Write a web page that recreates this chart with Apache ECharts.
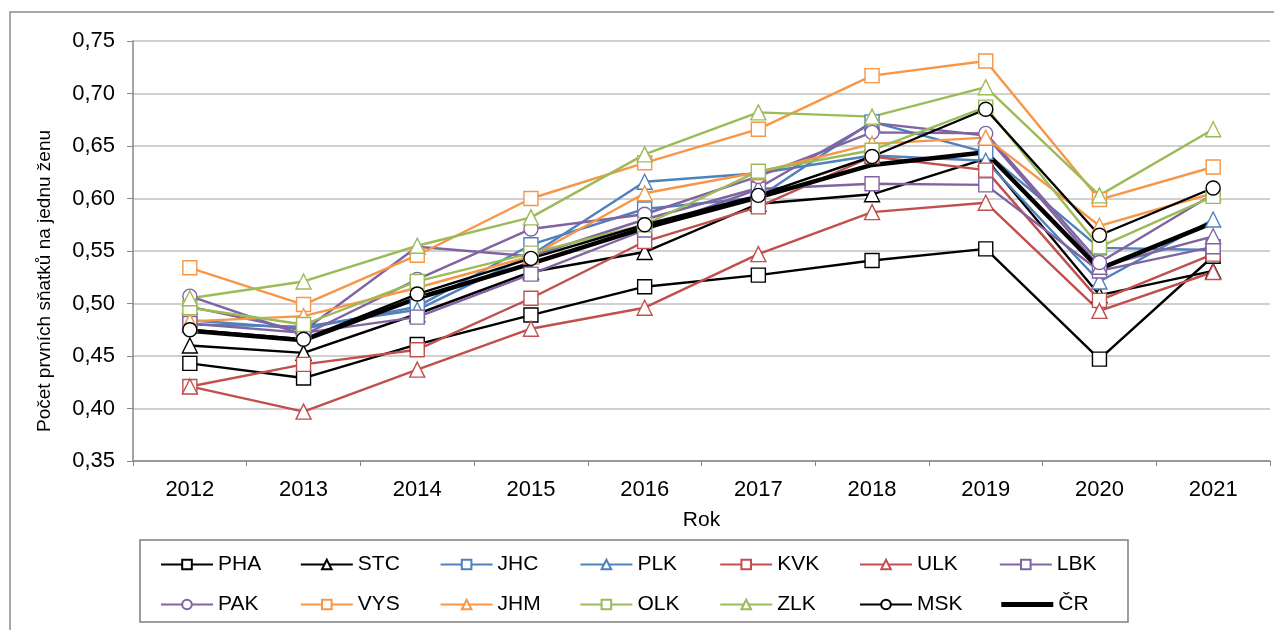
<!DOCTYPE html>
<html>
<head>
<meta charset="utf-8">
<script src="https://cdn.jsdelivr.net/npm/echarts@6/dist/echarts.min.js"></script>
<style>
  html, body { margin: 0; padding: 0; background: #fff; }
  #main { width: 1274px; height: 630px; }
</style>
</head>
<body>
<div id="main"></div>
<script>
var years = ['2012', '2013', '2014', '2015', '2016', '2017', '2018', '2019', '2020', '2021'];

var pha = [0.443, 0.429, 0.461, 0.489, 0.516, 0.527, 0.541, 0.552, 0.447, 0.545];
var stc = [0.460, 0.453, 0.490, 0.530, 0.549, 0.595, 0.604, 0.638, 0.508, 0.531];
var jhc = [0.484, 0.476, 0.497, 0.556, 0.590, 0.601, 0.673, 0.644, 0.553, 0.551];
var plk = [0.480, 0.478, 0.494, 0.546, 0.616, 0.624, 0.641, 0.636, 0.521, 0.580];
var kvk = [0.421, 0.442, 0.456, 0.505, 0.559, 0.592, 0.640, 0.627, 0.503, 0.547];
var ulk = [0.421, 0.397, 0.437, 0.476, 0.496, 0.547, 0.587, 0.596, 0.493, 0.530];
var lbk = [0.481, 0.472, 0.487, 0.528, 0.570, 0.609, 0.614, 0.613, 0.531, 0.554];
var hkk = [0.497, 0.474, 0.554, 0.545, 0.580, 0.610, 0.672, 0.660, 0.535, 0.564];
var pak = [0.507, 0.470, 0.523, 0.571, 0.585, 0.621, 0.663, 0.662, 0.539, 0.604];
var vys = [0.534, 0.499, 0.546, 0.600, 0.634, 0.666, 0.717, 0.731, 0.599, 0.630];
var jhm = [0.483, 0.488, 0.515, 0.545, 0.605, 0.625, 0.652, 0.658, 0.574, 0.605];
var olk = [0.496, 0.480, 0.521, 0.548, 0.575, 0.626, 0.646, 0.687, 0.554, 0.602];
var zlk = [0.505, 0.521, 0.555, 0.582, 0.642, 0.682, 0.678, 0.706, 0.603, 0.666];
var msk = [0.475, 0.466, 0.509, 0.543, 0.575, 0.603, 0.640, 0.685, 0.565, 0.610];
var cr  = [0.474, 0.465, 0.505, 0.538, 0.572, 0.601, 0.632, 0.644, 0.533, 0.577];

var legendRow1 = ['PHA', 'STC', 'JHC', 'PLK', 'KVK', 'ULK', 'LBK'];
var legendRow2 = ['PAK', 'VYS', 'JHM', 'OLK', 'ZLK', 'MSK', 'ČR'];

var FONT = 'Liberation Sans, Arial, sans-serif';

function line(name, data, color, symbol) {
    return {
        name: name,
        type: 'line',
        data: data,
        symbol: symbol,
        symbolSize: symbol === 'triangle' ? 15 : 14,
        showSymbol: true,
        lineStyle: { color: color, width: 2.4 },
        itemStyle: { color: '#fff', borderColor: color, borderWidth: 1.4 },
        emphasis: { disabled: true }
    };
}

// one legend per entry so that the columns line up like in the original
function legendItems(top, names) {
    return names.map(function (n, i) {
        var item = n;
        if (n === 'ČR')
            item = { name: n, itemStyle: { opacity: 0 }, lineStyle: { width: 5 } };
        return {
            left: 155 + i * 139.8,
            top: top,
            itemWidth: 52,
            itemHeight: 12,
            textStyle: { fontFamily: FONT, fontSize: 21, color: '#000' },
            data: [item]
        };
    });
}

var myChart = echarts.init(document.getElementById('main'));

var option = {
    animation: false,
    backgroundColor: '#fff',
    textStyle: { fontFamily: FONT },
    graphic: [
        {
            type: 'rect',
            shape: { x: 10, y: 12, width: 1290, height: 640 },
            style: { fill: 'none', stroke: '#8c8c8c', lineWidth: 1.5 },
            z: -10
        },
        {
            type: 'rect',
            shape: { x: 140, y: 540, width: 988, height: 82 },
            style: { fill: 'none', stroke: '#7f7f7f', lineWidth: 1.5 },
            z: -5
        },
        {
            type: 'text',
            x: 45,
            y: 281,
            rotation: Math.PI / 2,
            style: {
                text: 'Počet prvních sňatků na jednu ženu',
                font: '19px ' + FONT,
                fill: '#000',
                textAlign: 'center',
                textVerticalAlign: 'middle'
            }
        }
    ],
    legend: legendItems(549, legendRow1).concat(legendItems(589, legendRow2)),
    grid: { left: 133, right: 4, top: 41, bottom: 169 },
    xAxis: {
        type: 'category',
        data: years,
        boundaryGap: true,
        name: 'Rok',
        nameLocation: 'middle',
        nameGap: 49,
        nameTextStyle: { fontFamily: FONT, fontSize: 21, color: '#000' },
        axisLine: { lineStyle: { color: '#868686', width: 1.5 } },
        axisTick: { show: true, length: 5, lineStyle: { color: '#868686' } },
        axisLabel: { fontFamily: FONT, fontSize: 22, color: '#000', margin: 18 }
    },
    yAxis: {
        type: 'value',
        min: 0.35,
        max: 0.75,
        interval: 0.05,
        axisLine: { show: true, lineStyle: { color: '#868686', width: 1.5 } },
        axisTick: { show: true, inside: false, length: 6, lineStyle: { color: '#868686' } },
        splitLine: { lineStyle: { color: '#c0c0c0', width: 1.5 } },
        axisLabel: {
            fontFamily: FONT, fontSize: 22, color: '#000', margin: 18,
            formatter: function (v) { return v.toFixed(2).replace('.', ','); }
        }
    },
    series: [
        line('PHA', pha, '#000000', 'rect'),
        line('STC', stc, '#000000', 'triangle'),
        line('JHC', jhc, '#4f81bd', 'rect'),
        line('PLK', plk, '#4f81bd', 'triangle'),
        line('KVK', kvk, '#c0504d', 'rect'),
        line('ULK', ulk, '#c0504d', 'triangle'),
        line('LBK', lbk, '#8064a2', 'rect'),
        line('HKK', hkk, '#8064a2', 'triangle'),
        line('PAK', pak, '#8064a2', 'circle'),
        line('VYS', vys, '#f79646', 'rect'),
        line('JHM', jhm, '#f79646', 'triangle'),
        line('OLK', olk, '#9bbb59', 'rect'),
        line('ZLK', zlk, '#9bbb59', 'triangle'),
        line('MSK', msk, '#000000', 'circle'),
        {
            name: 'ČR',
            type: 'line',
            data: cr,
            symbol: 'none',
            lineStyle: { color: '#000000', width: 4.5 },
            itemStyle: { color: '#000000' },
            emphasis: { disabled: true }
        }
    ]
};

myChart.setOption(option);
</script>
</body>
</html>
